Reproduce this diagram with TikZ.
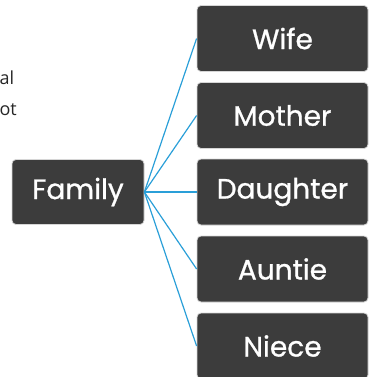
\documentclass[tikz,border=0pt]{standalone}
\usepackage{fontspec}
\setmainfont{Poppins}
\newfontface\boxfont{Poppins}[FakeBold=0.9]
\newfontfamily\notefont{Open Sans}
\usetikzlibrary{calc}
\definecolor{boxgray}{HTML}{3C3C3C}
\definecolor{rimgray}{HTML}{D6D6D6}
\definecolor{linkblue}{HTML}{2A9FD8}
\definecolor{notegray}{HTML}{262626}
\tikzset{
  famnode/.style={draw=rimgray, line width=0.8pt, fill=boxgray, rounded corners=4pt,
    text=white, font=\boxfont\fontsize{28}{32}\selectfont, inner sep=0pt},
  link/.style={draw=linkblue, line width=1.2pt}
}

\begin{document}
\begin{tikzpicture}[x=1pt,y=-1pt]
\useasboundingbox (0,0) rectangle (370,377);

\node[notegray, font=\notefont\fontsize{18}{20}\selectfont, anchor=base west] (n1) at (-4,85) {al};
\node[notegray, font=\notefont\fontsize{18}{20}\selectfont, anchor=base west] (n2) at (-4,116) {ot};

\node[famnode, minimum width=132, minimum height=65] (F) at (78,192) {Family};

\node[famnode, minimum width=171, minimum height=66] (W) at (282.5,38.5) {Wife};
\node[famnode, minimum width=171, minimum height=66] (M) at (282.5,115.5) {Mother};
\node[famnode, minimum width=171, minimum height=66] (D) at (282.5,192) {Daughter};
\node[famnode, minimum width=171, minimum height=66] (A) at (282.5,269) {Auntie};
\node[famnode, minimum width=171, minimum height=66] (N) at (282.5,346) {Niece};

\foreach \t in {W,M,D,A,N}
  \draw[link] (F.east) -- (\t.west);
\end{tikzpicture}
\end{document}
